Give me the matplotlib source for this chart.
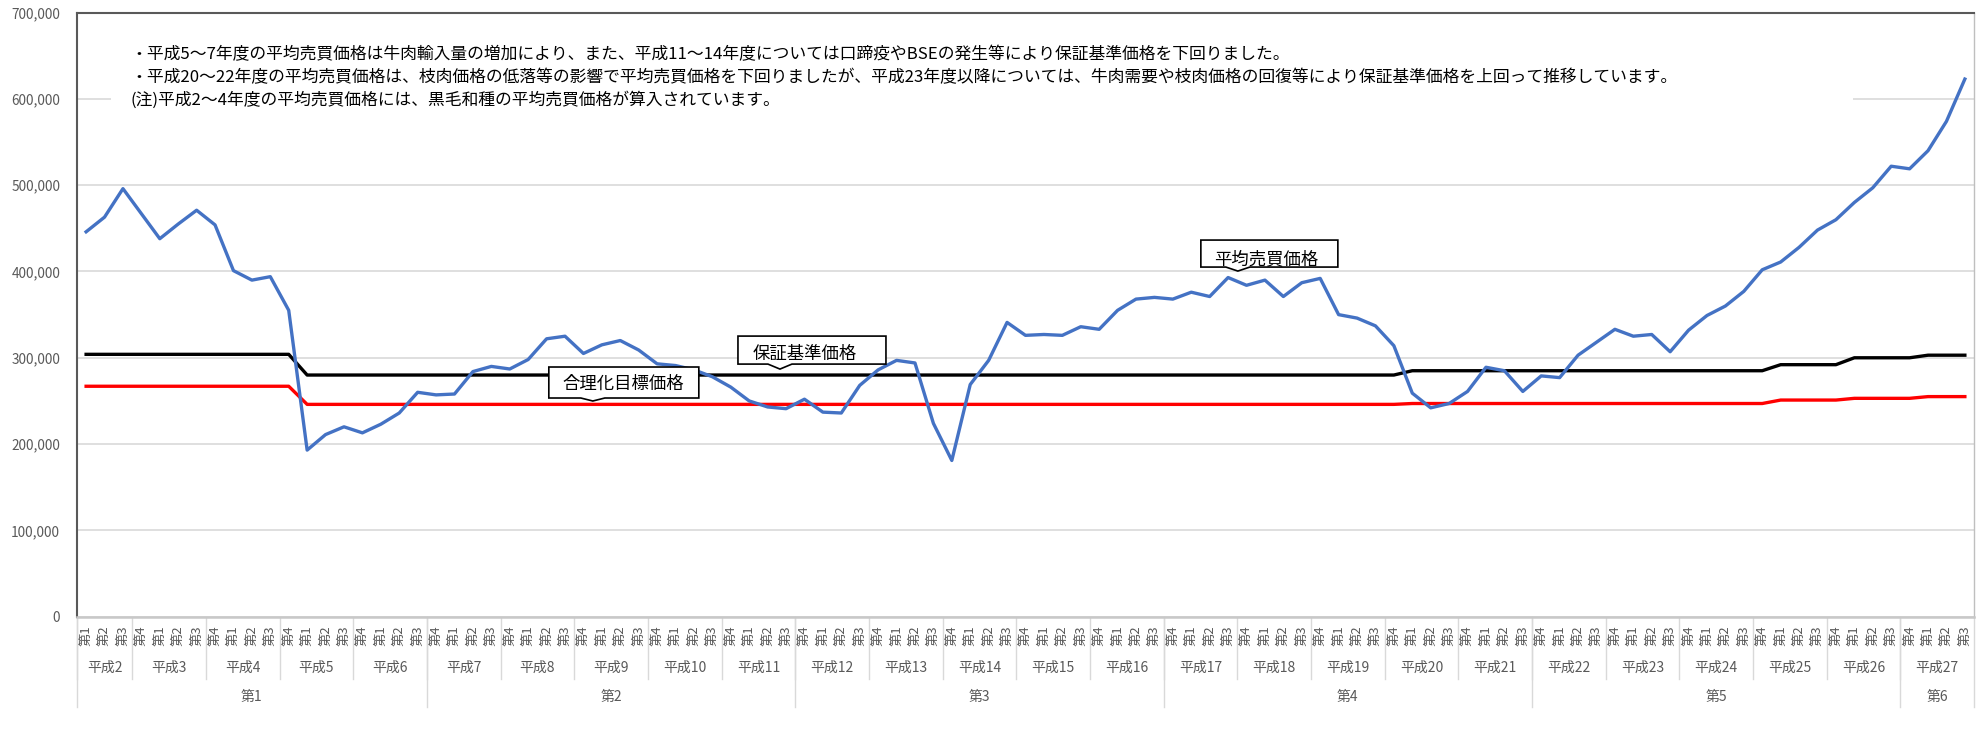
import matplotlib
matplotlib.use('Agg')
import matplotlib.pyplot as plt
import matplotlib.transforms as mtransforms
from matplotlib.patches import Polygon, Rectangle
from matplotlib.lines import Line2D
from matplotlib.ticker import FuncFormatter

plt.rcParams['font.family'] = ['Noto Sans CJK JP', 'DejaVu Sans']

"""
Data
"""
# 平成2 .. 平成27
years = [2, 3, 4, 5, 6, 7, 8, 9, 10, 11, 12, 13, 14, 15, 16, 17, 18, 19, 20, 21,
         22, 23, 24, 25, 26, 27]
quarters_first = ['第1', '第2', '第3']
quarters_rest = ['第4', '第1', '第2', '第3']
periods = ['第1', '第2', '第3', '第4', '第5', '第6']
period_years = [5, 5, 5, 5, 5, 1]

# 平均売買価格 (quarterly)
avg_price = [446000, 463000, 496000, 467000, 438000, 455000, 471000, 454000, 401000, 390000,
             394000, 355000, 193000, 211000, 220000, 213000, 223000, 236000, 260000, 257000,
             258000, 284000, 290000, 287000, 298000, 322000, 325000, 305000, 315000, 320000,
             309000, 293000, 291000, 286000, 278000, 266000, 250000, 243000, 241000, 252000,
             237000, 236000, 268000, 286000, 297000, 294000, 224000, 181000, 269000, 297000,
             341000, 326000, 327000, 326000, 336000, 333000, 355000, 368000, 370000, 368000,
             376000, 371000, 393000, 384000, 390000, 371000, 387000, 392000, 350000, 346000,
             337000, 314000, 259000, 242000, 247000, 261000, 289000, 285000, 261000, 279000,
             277000, 303000, 318000, 333000, 325000, 327000, 307000, 332000, 349000, 360000,
             377000, 402000, 411000, 428000, 448000, 460000, 480000, 497000, 522000, 519000,
             540000, 574000, 623000]

# 保証基準価格 / 合理化目標価格 per fiscal year (平成2 .. 平成27)
guarantee_fy = [304000, 304000, 304000, 280000, 280000, 280000, 280000, 280000, 280000, 280000,
                280000, 280000, 280000, 280000, 280000, 280000, 280000, 280000, 285000, 285000,
                285000, 285000, 285000, 292000, 300000, 303000]
target_fy = [267000, 267000, 267000, 246000, 246000, 246000, 246000, 246000, 246000, 246000,
             246000, 246000, 246000, 246000, 246000, 246000, 246000, 246000, 247000, 247000,
             247000, 247000, 247000, 251000, 253000, 255000]

note_lines = [
    '・平成5～7年度の平均売買価格は牛肉輸入量の増加により、また、平成11～14年度については口蹄疫やBSEの発生等により保証基準価格を下回りました。',
    '・平成20～22年度の平均売買価格は、枝肉価格の低落等の影響で平均売買価格を下回りましたが、平成23年度以降については、牛肉需要や枝肉価格の回復等により保証基準価格を上回って推移しています。',
    '(注)平成2～4年度の平均売買価格には、黒毛和種の平均売買価格が算入されています。',
]

"""
Build quarter axis
"""
quarter_labels = []
quarter_year = []
for y in years:
    qs = quarters_first if y == years[0] else quarters_rest
    for q in qs:
        quarter_labels.append(q)
        quarter_year.append(y)
# 第4 quarter belongs to previous fiscal year
fy_of_q = [y - 1 if q == '第4' else y for q, y in zip(quarter_labels, quarter_year)]
guarantee = [guarantee_fy[max(fy, years[0]) - years[0]] for fy in fy_of_q]
target = [target_fy[max(fy, years[0]) - years[0]] for fy in fy_of_q]
xs = list(range(len(avg_price)))

"""
Plot
"""
GRAY = '#595959'
LIGHT = '#d9d9d9'

fig = plt.figure(figsize=(19.82, 7.52), dpi=100)
ax = fig.add_axes([0.0388, 0.18, 0.9572, 0.8032])

ax.plot(xs, guarantee, color='black', lw=2.4, zorder=3, solid_joinstyle='round')
ax.plot(xs, target, color='#FF0000', lw=2.4, zorder=3, solid_joinstyle='round')
ax.plot(xs, avg_price, color='#4472C4', lw=2.4, zorder=4, solid_joinstyle='round')

ax.set_xlim(-0.5, len(xs) - 0.5)
ax.set_ylim(0, 700000)
ax.set_yticks(range(0, 700001, 100000))
ax.yaxis.set_major_formatter(FuncFormatter(lambda v, p: '{:,}'.format(int(v))))
ax.yaxis.grid(True, color=LIGHT, lw=1.2)
ax.set_axisbelow(True)
ax.tick_params(axis='y', length=0, pad=12, labelsize=9.8, labelcolor=GRAY)

ax.set_xticks(xs)
ax.set_xticklabels(quarter_labels, rotation=90, fontsize=9.5, color=GRAY)
ax.tick_params(axis='x', length=0, pad=6)

ax.spines['top'].set_color(GRAY)
ax.spines['top'].set_linewidth(1.5)
ax.spines['left'].set_color(GRAY)
ax.spines['left'].set_linewidth(1.5)
ax.spines['right'].set_color('#bfbfbf')
ax.spines['right'].set_linewidth(1.0)
ax.spines['bottom'].set_color('#c8c8c8')
ax.spines['bottom'].set_linewidth(1.8)

# year and period labels with separators
xtrans = ax.get_xaxis_transform()
year_starts = [quarter_year.index(y) for y in years]
year_ends = year_starts[1:] + [len(xs)]
for y, s, e in zip(years, year_starts, year_ends):
    ax.text((s + e - 1) / 2, -0.085, '平成%d' % y, transform=xtrans, ha='center', va='center',
            fontsize=10, color=GRAY)
    ax.add_line(Line2D([s - 0.5, s - 0.5], [0, -0.103], transform=xtrans, color=LIGHT,
                       lw=1, clip_on=False))

pos = 0
bounds = [-0.5]
for p, n in zip(periods, period_years):
    s = year_starts[pos]
    e = year_ends[pos + n - 1]
    ax.text((s + e - 1) / 2, -0.133, p, transform=xtrans, ha='center', va='center',
            fontsize=10, color=GRAY)
    bounds.append(e - 0.5)
    pos += n
for b in bounds:
    ax.add_line(Line2D([b, b], [0, -0.15], transform=xtrans, color=LIGHT, lw=1, clip_on=False))

# note box
ax.add_patch(Rectangle((0.018, 0.8255), 0.918, 0.14, transform=ax.transAxes,
                       fc='white', ec='none', zorder=2))
for line, yy in zip(note_lines, [0.930, 0.893, 0.855]):
    ax.text(0.028, yy, line, transform=ax.transAxes, fontsize=12.1, va='center', zorder=5)


# callouts: box with small notch pointing down at (xd, yd); offsets in pixels
def callout(xd, yd, text, left, right, bottom, top, tx, ty):
    trans = fig.dpi_scale_trans + mtransforms.ScaledTranslation(xd, yd, ax.transData)
    verts = [(left, bottom), (-12, bottom), (0, 0), (12, bottom), (right, bottom),
             (right, top), (left, top)]
    verts = [(vx / 100.0, vy / 100.0) for vx, vy in verts]
    ax.add_patch(Polygon(verts, closed=True, transform=trans, fc='white', ec='black',
                         lw=1.2, zorder=6, clip_on=False))
    ax.annotate(text, xy=(xd, yd), xytext=(tx * 0.72, ty * 0.72), textcoords='offset points',
                ha='center', va='center', fontsize=12.5, zorder=7)


callout(62.53, 400500, '平均売買価格', -37, 100, 4, 31, 28, 12)
callout(37.67, 286900, '保証基準価格', -42, 106, 5, 33, 25, 15)
callout(27.51, 249900, '合理化目標価格', -44, 106, 3, 34, 30, 17)

fig.savefig('out.png', dpi=100, facecolor='white')
